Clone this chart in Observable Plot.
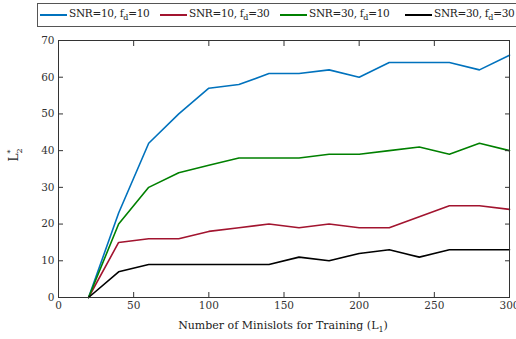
<!DOCTYPE html>
<html><head><meta charset="utf-8">
<script src="https://cdn.jsdelivr.net/npm/d3@7"></script>
<script src="https://cdn.jsdelivr.net/npm/@observablehq/plot@0.6"></script>
<style>
body{margin:0;background:#fff;font-family:"DejaVu Serif",serif;}
#wrap{position:relative;width:516px;height:339px;overflow:hidden;}
#legend{position:absolute;left:37px;top:3px;width:490px;height:24px;border:1px solid #555;background:#fff;box-sizing:border-box;font-size:10.5px;letter-spacing:-0.3px;color:#222;white-space:nowrap;}
#legend .it{position:absolute;top:3px;}
#legend .sw{display:inline-block;width:27px;height:2px;vertical-align:middle;margin-right:2px;position:relative;top:1px;}
#chart{position:absolute;left:0;top:30px;}
</style></head>
<body><div id="wrap"><div id="legend"></div><div id="chart"></div></div>
<script>
const L1 = [20,40,60,80,100,120,140,160,180,200,220,240,260,280,300];
const snr10fd10 = [0,23,42,50,57,58,61,61,62,60,64,64,64,62,66];
const snr10fd30 = [0,15,16,16,18,19,20,19,20,19,19,22,25,25,24];
const snr30fd10 = [0,20,30,34,36,38,38,38,39,39,40,41,39,42,40];
const snr30fd30 = [0,7,9,9,9,9,9,11,10,12,13,11,13,13,13];
const seriesNames = ["SNR=10, f_d=10","SNR=10, f_d=30","SNR=30, f_d=10","SNR=30, f_d=30"];
const seriesColors = ["#0072BD","#A2142F","#008000","#000000"];
const xTicks = [0,50,100,150,200,250,300];
const yTicks = [0,10,20,30,40,50,60,70];

const allSeries = [snr10fd10, snr10fd30, snr30fd10, snr30fd30];
const rows = [];
allSeries.forEach((vals, i) => vals.forEach((v, j) => rows.push({x: L1[j], y: v, s: seriesNames[i]})));

// legend
const legPos = [2, 122, 242, 367];
const leg = document.getElementById("legend");
seriesNames.forEach((n, i) => {
  const [a, b] = n.split("f_d");
  const d = document.createElement("span");
  d.className = "it";
  d.style.left = legPos[i] + "px";
  d.innerHTML = `<span class="sw" style="background:${seriesColors[i]}"></span>${a}f<sub style="font-size:8px">d</sub>${b}`;
  leg.appendChild(d);
});

const font = "DejaVu Serif";
const chart = Plot.plot({
  width: 516, height: 309,
  marginLeft: 58, marginRight: 7, marginTop: 10, marginBottom: 42,
  style: {fontFamily: font, fontSize: "10.5px", color: "#333", background: "#fff"},
  x: {domain: [0, 300]},
  y: {domain: [0, 70]},
  color: {domain: seriesNames, range: seriesColors},
  marks: [
    Plot.line(rows, {x: "x", y: "y", z: "s", stroke: "s", strokeWidth: 1.6}),
    Plot.frame({stroke: "#333", strokeWidth: 1}),
    Plot.axisX({anchor: "bottom", ticks: xTicks, tickSize: -5, tickPadding: 9, label: null, stroke: "#333"}),
    Plot.axisX({anchor: "top", ticks: xTicks, tickSize: -5, tickFormat: () => "", label: null, stroke: "#333"}),
    Plot.axisY({anchor: "left", ticks: yTicks, tickSize: -5, tickPadding: 9, label: null, stroke: "#333"}),
    Plot.axisY({anchor: "right", ticks: yTicks, tickSize: -5, tickFormat: () => "", label: null, stroke: "#333"})
  ]
});
document.getElementById("chart").appendChild(chart);

// axis titles as real text inside svg
const svg = d3.select(chart);
const xt = svg.append("text").attr("x", 283).attr("y", 299).attr("text-anchor", "middle")
  .attr("font-family", font).attr("font-size", "11px").attr("fill", "#222");
xt.append("tspan").text("Number of Minislots for Training (L");
xt.append("tspan").attr("font-size", "8px").attr("dy", "3").text("1");
xt.append("tspan").attr("dy", "-3").text(")");
const yt = svg.append("text").attr("transform", "translate(18,125) rotate(-90)").attr("text-anchor", "middle")
  .attr("font-family", font).attr("font-size", "12px").attr("fill", "#222");
yt.append("tspan").text("L");
yt.append("tspan").attr("font-size", "8px").attr("dy", "-5").text("*");
yt.append("tspan").attr("font-size", "8px").attr("dx", "-4").attr("dy", "9").text("2");
</script></body></html>
